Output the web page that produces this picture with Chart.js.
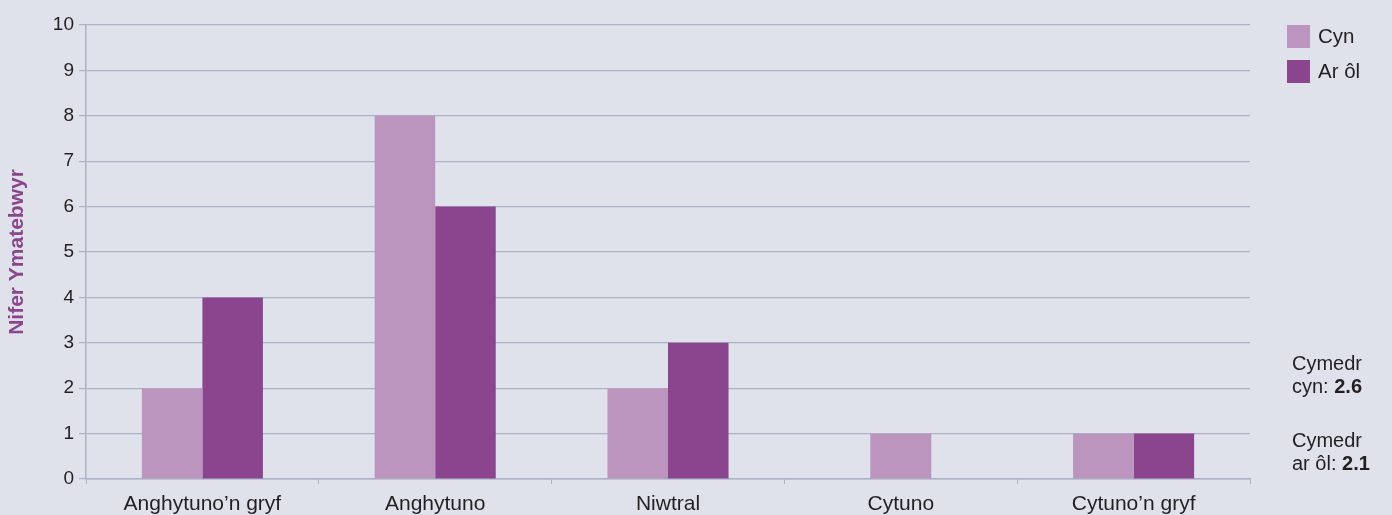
<!DOCTYPE html>
<html>
<head>
<meta charset="utf-8">
<script src="https://cdn.jsdelivr.net/npm/chart.js@4/dist/chart.umd.min.js"></script>
<style>
    html, body { margin: 0; padding: 0; background: #dfe2ea; }
    #wrap { width: 1392px; height: 515px; position: relative; }
</style>
</head>
<body>
<div id="wrap"><canvas id="chart"></canvas></div>
<script>
const categories = ['Anghytuno’n gryf', 'Anghytuno', 'Niwtral', 'Cytuno', 'Cytuno’n gryf']
const cynValues = [2, 8, 2, 1, 1]
const arOlValues = [4, 6, 3, null, 1]
const seriesNames = ['Cyn', 'Ar ôl']
const meanLines = [['Cymedr', 'cyn: ', '2.6'], ['Cymedr', 'ar ôl: ', '2.1']]

const lightPurple = '#bc95bf'
const darkPurple = '#8b448e'
const gridColor = '#aab2c6'
const textColor = '#231f20'
const fontFam = '"Liberation Sans", Arial, sans-serif'

// legend + mean notes on the right side
const sideNotes = {
    id: 'sideNotes',
    afterDraw(chart) {
        const ctx = chart.ctx
        const area = chart.chartArea
        const x = area.right + 37
        ctx.save()
        chart.data.datasets.forEach((ds, i) => {
            const y = area.top + i * 35
            ctx.fillStyle = ds.backgroundColor
            ctx.fillRect(x, y, 23, 23)
            ctx.fillStyle = textColor
            ctx.font = '20.5px ' + fontFam
            ctx.textBaseline = 'middle'
            ctx.fillText(ds.label, x + 31, y + 12)
        })
        let y = 364
        meanLines.forEach(m => {
            ctx.font = '20px ' + fontFam
            ctx.fillStyle = textColor
            ctx.textBaseline = 'middle'
            ctx.fillText(m[0], x + 5, y)
            ctx.fillText(m[1], x + 5, y + 23)
            let w = ctx.measureText(m[1]).width
            ctx.font = 'bold 20px ' + fontFam
            ctx.fillText(m[2], x + 5 + w, y + 23)
            y += 77
        })
        ctx.restore()
    }
}

const ctx = document.getElementById('chart').getContext('2d')
const myChart = new Chart(ctx, {
    type: 'bar',
    data: {
        labels: categories,
        datasets: [{
            label: seriesNames[0],
            data: cynValues,
            backgroundColor: lightPurple
        }, {
            label: seriesNames[1],
            data: arOlValues,
            backgroundColor: darkPurple
        }]
    },
    options: {
        responsive: true,
        maintainAspectRatio: false,
        animation: false,
        datasets: {
            bar: { categoryPercentage: 0.52, barPercentage: 1, skipNull: true, maxBarThickness: 61 }
        },
        layout: { padding: { top: 25, right: 142, left: 0, bottom: 0 } },
        plugins: {
            legend: { display: false },
            tooltip: { enabled: false }
        },
        scales: {
            x: {
                grid: { drawOnChartArea: false, drawTicks: true, tickLength: 5, color: gridColor, offset: true },
                border: { color: gridColor, width: 1.5 },
                ticks: { color: textColor, font: { family: fontFam, size: 21 }, padding: 8, maxRotation: 0 },
                afterFit: (scale) => { scale.height = 36 }
            },
            y: {
                min: 0,
                max: 10,
                grid: { color: gridColor, lineWidth: 1.2, tickLength: 7 },
                border: { color: gridColor, width: 1.5 },
                ticks: { stepSize: 1, color: textColor, font: { family: fontFam, size: 19 }, padding: 5 },
                title: {
                    display: true,
                    text: 'Nifer Ymatebwyr',
                    color: darkPurple,
                    font: { family: fontFam, size: 21, weight: 'bold' },
                    padding: { top: 5, bottom: 0 }
                },
                afterFit: (scale) => { scale.width = 86 }
            }
        }
    },
    plugins: [sideNotes]
})
</script>
</body>
</html>
